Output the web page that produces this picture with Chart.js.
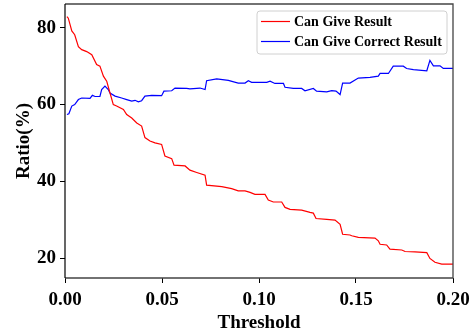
<!DOCTYPE html>
<html><head><meta charset="utf-8">
<script src="https://cdn.jsdelivr.net/npm/chart.js@4/dist/chart.umd.min.js"></script>
<style>html,body{margin:0;padding:0;background:#fff;}#wrap{width:476px;height:335px;}</style>
</head><body><div id="wrap"><canvas id="c" width="476" height="335"></canvas></div>
<script>
const seriesNames = ['Can Give Result', 'Can Give Correct Result'];
const seriesColors = ['#ff0000', '#0000ff'];
const xTickValues = [0, 0.05, 0.10, 0.15, 0.20];
const yTickValues = [20, 40, 60, 80];
const xTitle = 'Threshold';
const yTitle = 'Ratio(%)';

const resultX = [0.001,0.0017,0.0035,0.005,0.0069,0.0086,0.0112,0.0138,0.0163,0.018,
  0.0198,0.0215,0.0232,0.0249,0.0266,0.0301,0.0318,0.0344,0.037,0.0395,
  0.0412,0.0438,0.0464,0.0498,0.0515,0.055,0.0562,0.0619,0.0644,0.0679,
  0.0722,0.073,0.0808,0.0859,0.0893,0.0928,0.0954,0.0979,0.1031,0.1048,
  0.1074,0.1117,0.1134,0.116,0.122,0.1263,0.128,0.1294,0.1349,0.1392,
  0.1418,0.1431,0.1469,0.1478,0.1512,0.1598,0.1615,0.1624,0.1658,0.1675,
  0.1736,0.1753,0.1804,0.1865,0.1881,0.1907,0.1942,0.2];
const resultY = [82.9,82.5,79.2,78.2,75.1,74.3,73.8,73.0,70.4,70.0,
  67.4,66.1,63.0,60.0,59.6,58.7,57.4,56.5,55.2,54.4,
  51.4,50.5,50.0,49.6,46.6,45.9,44.2,44.0,42.9,42.3,
  41.6,39.0,38.6,38.1,37.5,37.5,37.1,36.6,36.6,35.1,
  34.6,34.6,33.2,32.7,32.5,31.9,31.7,30.3,30.1,29.9,
  28.8,26.2,26.0,25.8,25.4,25.2,24.5,23.6,23.4,22.3,
  22.1,21.7,21.6,21.4,19.9,18.9,18.4,18.4];

const correctX = [0.001,0.002,0.0035,0.005,0.0069,0.0086,0.0129,0.0141,0.0155,0.018,
  0.0189,0.0206,0.0223,0.0232,0.0258,0.0292,0.0318,0.0344,0.0361,0.0378,
  0.0395,0.0412,0.0447,0.0498,0.051,0.055,0.0567,0.0627,0.0644,0.0696,
  0.0722,0.073,0.0782,0.0842,0.0893,0.0928,0.0945,0.0962,0.104,0.1057,
  0.1082,0.1126,0.1134,0.1177,0.122,0.1237,0.128,0.1297,0.1349,0.1375,
  0.1397,0.1418,0.1431,0.1469,0.1512,0.1572,0.1615,0.1624,0.1667,0.1692,
  0.1744,0.1761,0.1796,0.1865,0.1881,0.1899,0.1933,0.195,0.2];
const correctY = [57.4,57.6,59.6,60.0,61.3,61.7,61.6,62.4,62.1,62.1,
  63.9,64.8,63.9,63.0,62.2,61.7,61.3,60.9,61.1,60.7,
  61.0,62.2,62.4,62.3,63.5,63.6,64.3,64.2,64.1,64.3,
  63.9,66.2,66.7,66.3,65.6,65.6,66.2,65.8,65.8,66.1,
  65.5,65.5,64.5,64.2,64.2,63.6,64.2,63.5,63.3,63.6,
  63.5,62.6,65.6,65.6,66.9,67.1,67.4,68.1,68.1,70.0,
  70.0,69.4,69.1,68.8,71.5,70.1,70.1,69.4,69.4];

function pairs(xs, ys) { return xs.map((x, i) => ({x: x, y: ys[i]})); }

const FONT = 'Liberation Serif';

const framePlugin = {
  id: 'frame',
  afterDraw(chart) {
    const {ctx, chartArea: a} = chart;
    ctx.save();
    ctx.strokeStyle = '#444';
    ctx.lineWidth = 1.3;
    ctx.beginPath();
    ctx.moveTo(a.left, a.top); ctx.lineTo(a.right, a.top);
    ctx.lineTo(a.right, a.bottom); ctx.lineTo(a.left, a.bottom);
    ctx.stroke();
    ctx.strokeStyle = '#000';
    ctx.lineWidth = 1.2;
    ctx.beginPath();
    ctx.moveTo(a.left, a.top); ctx.lineTo(a.left, a.bottom);
    ctx.stroke();
    // legend
    const bx = 257, by = 11, bw = 190, bh = 43, r = 3;
    ctx.fillStyle = 'rgba(255,255,255,0.85)';
    ctx.strokeStyle = '#d0d0d0';
    ctx.lineWidth = 1;
    ctx.beginPath();
    ctx.moveTo(bx + r, by);
    ctx.arcTo(bx + bw, by, bx + bw, by + bh, r);
    ctx.arcTo(bx + bw, by + bh, bx, by + bh, r);
    ctx.arcTo(bx, by + bh, bx, by, r);
    ctx.arcTo(bx, by, bx + bw, by, r);
    ctx.closePath();
    ctx.fill(); ctx.stroke();
    ctx.font = 'bold 14px "' + FONT + '"';
    ctx.textBaseline = 'middle';
    chart.data.datasets.forEach((ds, i) => {
      const yy = 21.5 + i * 20;
      ctx.strokeStyle = ds.borderColor;
      ctx.lineWidth = 1.2;
      ctx.beginPath(); ctx.moveTo(261, yy); ctx.lineTo(290, yy); ctx.stroke();
      ctx.fillStyle = '#000';
      ctx.fillText(ds.label, 294, yy + 1);
    });
    ctx.restore();
  }
};

new Chart(document.getElementById('c'), {
  type: 'line',
  data: {
    datasets: [
      {label: seriesNames[0], data: pairs(resultX, resultY), borderColor: seriesColors[0], borderWidth: 1.2, pointRadius: 0, fill: false, tension: 0},
      {label: seriesNames[1], data: pairs(correctX, correctY), borderColor: seriesColors[1], borderWidth: 1.2, pointRadius: 0, fill: false, tension: 0}
    ]
  },
  options: {
    responsive: false,
    animation: false,
    devicePixelRatio: 1,
    layout: {padding: {left: 0, top: 4, right: 23, bottom: 0}},
    plugins: {legend: {display: false}, tooltip: {enabled: false}},
    scales: {
      x: {
        type: 'linear', min: 0, max: 0.2,
        afterBuildTicks(s) { s.ticks = xTickValues.map(v => ({value: v})); },
        afterFit(s) { s.height = 57; s.paddingLeft = 0; s.paddingRight = 0; },
        ticks: {callback: v => Number(v).toFixed(2), color: '#000', padding: 6, maxRotation: 0, font: {family: FONT, size: 19, weight: 'bold'}},
        grid: {display: true, drawOnChartArea: false, drawTicks: true, tickLength: 5, color: '#000'},
        border: {display: false},
        title: {display: true, text: xTitle, color: '#000', padding: {top: 0, bottom: 1}, font: {family: FONT, size: 19, weight: 'bold'}}
      },
      y: {
        type: 'linear', min: 14.8, max: 86.2,
        afterBuildTicks(s) { s.ticks = yTickValues.map(v => ({value: v})); },
        afterFit(s) { s.width = 65; s.paddingTop = 0; s.paddingBottom = 0; },
        ticks: {color: '#000', padding: 4, font: {family: FONT, size: 19, weight: 'bold'}},
        grid: {display: true, drawOnChartArea: false, drawTicks: true, tickLength: 5, color: '#000'},
        border: {display: false},
        title: {display: true, text: yTitle, color: '#000', padding: {top: 13, bottom: 0}, font: {family: FONT, size: 19, weight: 'bold'}}
      }
    }
  },
  plugins: [framePlugin]
});
</script>
</body></html>
